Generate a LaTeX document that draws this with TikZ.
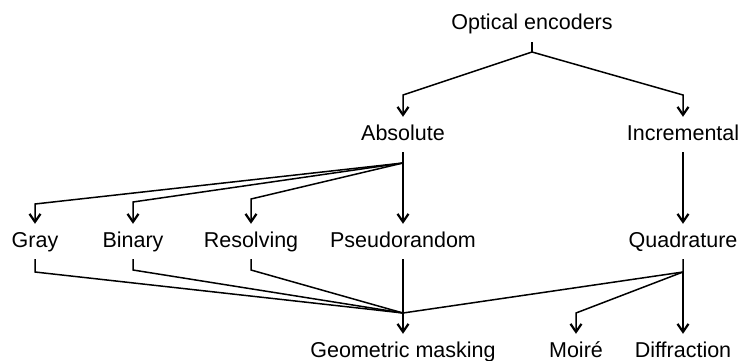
\documentclass[tikz,border=0pt]{standalone}
\usepackage{fontspec}
\setmainfont{Liberation Sans}
\usetikzlibrary{arrows.meta}
\begin{document}
\begin{tikzpicture}[x=1pt,y=-1pt,
  lbl/.style={anchor=base,font=\fontsize{21.5}{24}\selectfont,text height=15.5pt,text depth=4.5pt,inner sep=7.5pt},
  ln/.style={line width=1.5pt,line join=miter},
  arr/.style={ln,-{Straight Barb[length=8pt,width=11pt,line width=2.2pt]}}]
\useasboundingbox (0,0) rectangle (741,361);
% nodes
\node[lbl] (oe)  at (532,30) {Optical encoders};
\node[lbl] (abs) at (403,140) {Absolute};
\node[lbl] (inc) at (683,140) {Incremental};
\node[lbl] (gray) at (35,247) {Gray};
\node[lbl] (bin) at (133,247) {Binary};
\node[lbl] (res) at (251,247) {Resolving};
\node[lbl] (pse) at (403,247) {Pseudorandom};
\node[lbl] (qua) at (683,247) {Quadrature};
\node[lbl] (geo) at (403,357) {Geometric masking};
\node[lbl] (moi) at (576,357) {Moiré};
\node[lbl] (dif) at (683,357) {Diffraction};
% junctions
\coordinate (j0) at (532,52);
\coordinate (ca) at (403,95);
\coordinate (ci) at (683,95);
\coordinate (ja) at (403,163);
\coordinate (cg) at (35,204);
\coordinate (cb) at (133,202);
\coordinate (cr) at (251,199);
\coordinate (tg) at (35,272);
\coordinate (tb) at (133,270);
\coordinate (tr) at (251,270);
\coordinate (jg) at (403,313);
\coordinate (jq) at (683,272);
\coordinate (cm) at (576,313);
% connectors
\draw[ln] (oe.south) -- (j0);
\draw[arr] (j0) -- (ca) -- (abs.north);
\draw[arr] (j0) -- (ci) -- (inc.north);
\draw[ln] (abs.south) -- (ja);
\draw[arr] (ja) -- (cg) -- (gray.north);
\draw[arr] (ja) -- (cb) -- (bin.north);
\draw[arr] (ja) -- (cr) -- (res.north);
\draw[arr] (ja) -- (pse.north);
\draw[arr] (inc.south) -- (qua.north);
\draw[ln] (gray.south) -- (tg) -- (jg);
\draw[ln] (bin.south) -- (tb) -- (jg);
\draw[ln] (res.south) -- (tr) -- (jg);
\draw[arr] (pse.south) -- (geo.north);
\draw[ln] (qua.south) -- (jq) -- (jg);
\draw[arr] (jq) -- (cm) -- (moi.north);
\draw[arr] (jq) -- (dif.north);
\end{tikzpicture}
\end{document}
